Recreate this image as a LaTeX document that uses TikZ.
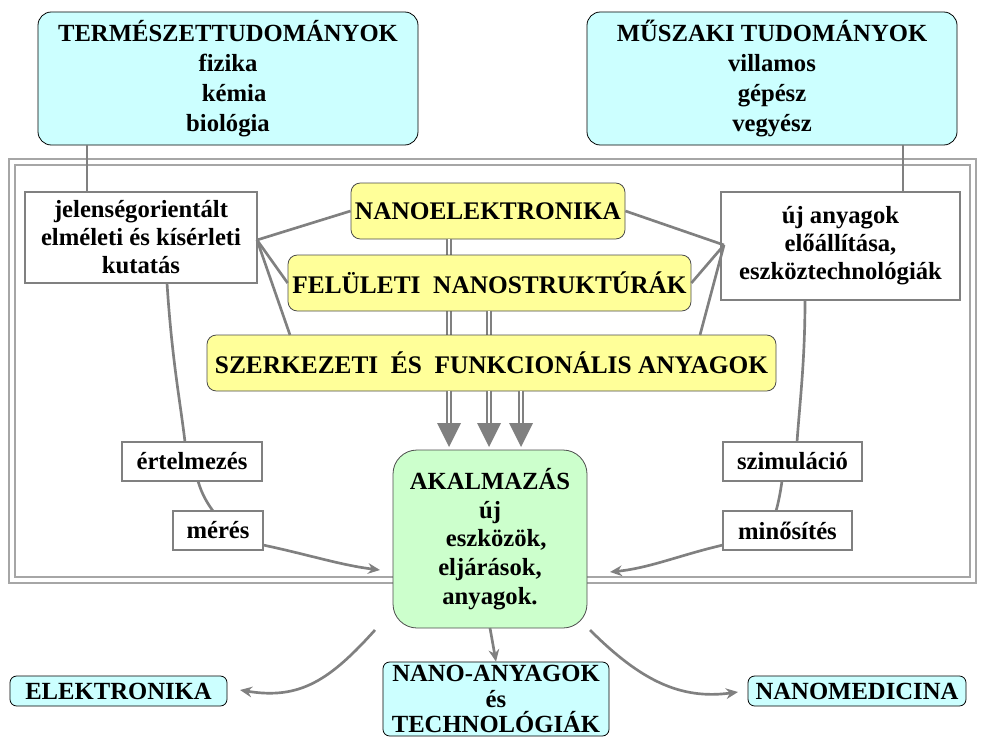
\documentclass[tikz,border=0pt]{standalone}
\usepackage{fontspec}
\setmainfont{Liberation Serif}
\usetikzlibrary{arrows.meta}
\definecolor{cy}{RGB}{204,255,255}
\definecolor{ye}{RGB}{255,255,153}
\definecolor{gr}{RGB}{204,255,204}
\begin{document}
\begin{tikzpicture}[x=0.75pt,y=-0.75pt,
  every node/.style={font=\bfseries\fontsize{18.5}{22.5}\selectfont,align=center,inner sep=0pt},
  cyanbox/.style={draw=black,fill=cy,rounded corners=10pt,line width=0.6pt},
  yelbox/.style={draw=black!70,fill=ye,rounded corners=7pt,line width=0.6pt,font=\bfseries\fontsize{19}{22}\selectfont},
  whbox/.style={draw=gray,fill=white,line width=1.8pt},
  conn/.style={draw=gray,line width=2pt},
  carrow/.style={conn,-{Stealth[length=9pt,width=8pt]}},
  dbl/.style={draw=gray,double=white,double distance=1.2pt,line width=1.5pt}]
\useasboundingbox (0,0) rectangle (985,742);
% frame
\draw[gray!70,line width=1.2pt,double=white,double distance=3pt] (12,162) rectangle (973,580);
% nodes
\node[cyanbox,minimum width=380*0.75pt,minimum height=133*0.75pt] (T) at (228,78.5) {TERMÉSZETTUDOMÁNYOK\\fizika\\\ \ kémia\\biológia};
\node[cyanbox,minimum width=370*0.75pt,minimum height=133*0.75pt] (M) at (772,78.5) {MŰSZAKI TUDOMÁNYOK\\villamos\\gépész\\vegyész};
\coordinate (a1) at (449,447); \coordinate (a2) at (489,447); \coordinate (a3) at (521,447);
\node[yelbox,minimum width=274*0.75pt,minimum height=56*0.75pt] (NE) at (488,211) {NANOELEKTRONIKA};
\draw[dbl] (NE.south -| a1) -- (449,425);
\node[yelbox,minimum width=403*0.75pt,minimum height=56*0.75pt] (FN) at (489.5,283) {FELÜLETI\ \ NANOSTRUKTÚRÁK};
\draw[dbl] (FN.south -| a2) -- (489,425);
\node[yelbox,minimum width=569*0.75pt,minimum height=56*0.75pt] (SZ) at (491.5,363) {SZERKEZETI\ \ ÉS\ \ FUNKCIONÁLIS ANYAGOK};
\draw[dbl] (SZ.south -| a1) -- (449,425);
\draw[dbl] (SZ.south -| a2) -- (489,425);
\draw[dbl] (SZ.south -| a3) -- (521,425);
\foreach \p in {a1,a2,a3}{\fill[gray] (\p) ++(-12,-24) -- ++(24,0) -- (\p) -- cycle;}
\node[whbox,minimum width=232*0.75pt,minimum height=91*0.75pt,font=\bfseries\fontsize{18.5}{21}\selectfont] (J) at (141,237.5) {jelenségorientált\\elméleti és kísérleti\\kutatás};
\node[whbox,minimum width=239*0.75pt,minimum height=108*0.75pt,font=\bfseries\fontsize{18.5}{21}\selectfont] (U) at (840.5,246) {új anyagok\\előállítása,\\eszköztechnológiák};
\node[draw=black!70,fill=gr,rounded corners=18pt,line width=0.6pt,minimum width=194*0.75pt,minimum height=178*0.75pt,font=\bfseries\fontsize{18.5}{21.5}\selectfont] (A) at (490,539) {AKALMAZÁS\\új\\\ \ eszközök,\\eljárások,\\anyagok.};
\node[whbox,minimum width=140*0.75pt,minimum height=39*0.75pt] (E) at (192,461.5) {értelmezés};
\node[whbox,minimum width=90*0.75pt,minimum height=39*0.75pt] (ME) at (218,530.5) {mérés};
\node[whbox,minimum width=139*0.75pt,minimum height=39*0.75pt] (S) at (792.5,461.5) {szimuláció};
\node[whbox,minimum width=129*0.75pt,minimum height=39*0.75pt] (MI) at (787.5,530.5) {minősítés};
\node[cyanbox,rounded corners=5pt,minimum width=217*0.75pt,minimum height=30*0.75pt] (EL) at (118.5,691) {ELEKTRONIKA};
\node[cyanbox,rounded corners=5pt,minimum width=226*0.75pt,minimum height=74*0.75pt,font=\bfseries\fontsize{18.5}{19}\selectfont] (NA) at (496,699) {NANO-ANYAGOK\\és\\TECHNOLÓGIÁK};
\node[cyanbox,rounded corners=5pt,minimum width=218*0.75pt,minimum height=30*0.75pt] (NM) at (857,691) {NANOMEDICINA};
% connectors
\draw[conn] (T.south -| 87,0) -- (J.north -| 87,0);
\draw[conn] (M.south -| 903,0) -- (U.north -| 903,0);
\coordinate (jr) at (257,240); \coordinate (ul) at (724,245);
\draw[conn] (jr) -- (NE.west); \draw[conn] (jr) -- (FN.west); \draw[conn] (jr) -- (290,335);
\draw[conn] (ul) -- (NE.east); \draw[conn] (ul) -- (FN.east); \draw[conn] (ul) -- (700,335);
\draw[conn] (167,283) .. controls (172,360) and (180,400) .. (185,442);
\draw[conn] (198,481) .. controls (202,495) and (208,504) .. (213,511);
\draw[conn] (805,300) .. controls (805,360) and (800,400) .. (797,442);
\draw[conn] (782,481) .. controls (780,495) and (778,504) .. (776,511);
\draw[carrow] (263,545) .. controls (310,555) and (340,565) .. (380,570);
\draw[carrow] (723,545) .. controls (680,555) and (650,568) .. (610,572);
\draw[carrow] (375,630) .. controls (330,680) and (300,700) .. (240,690);
\draw[carrow] (490,628) -- (NA.north);
\draw[carrow] (590,630) .. controls (640,680) and (680,700) .. (738,692);
\end{tikzpicture}
\end{document}
